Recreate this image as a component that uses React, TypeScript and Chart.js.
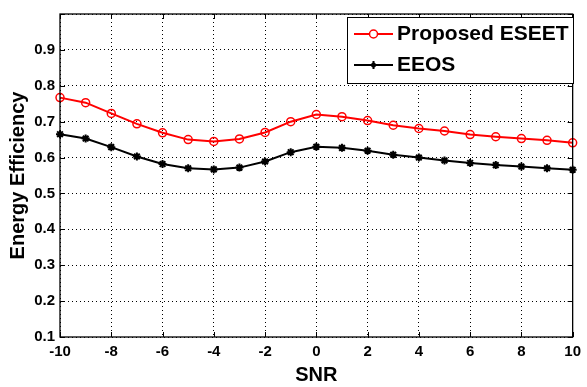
import React, { useEffect, useRef } from "react";
import { Chart, registerables } from "chart.js";

Chart.register(...registerables);

const snr = [-10, -9, -8, -7, -6, -5, -4, -3, -2, -1, 0, 1, 2, 3, 4, 5, 6, 7, 8, 9, 10];
const proposedEseet = [0.767, 0.753, 0.723, 0.694, 0.669, 0.65, 0.645, 0.652, 0.67, 0.7, 0.72, 0.714, 0.703, 0.69, 0.681, 0.674, 0.664, 0.658, 0.653, 0.648, 0.641];
const eeos = [0.665, 0.653, 0.629, 0.603, 0.582, 0.57, 0.567, 0.572, 0.589, 0.615, 0.63, 0.627, 0.619, 0.608, 0.6, 0.592, 0.585, 0.579, 0.575, 0.57, 0.566];
const seriesLabels = ["Proposed ESEET", "EEOS"];
const xTitle = "SNR";
const yTitle = "Energy Efficiency";

const FONT = "'Liberation Sans', Arial, sans-serif";

const boxLegendPlugin = {
  id: "boxLegend",
  afterDraw(chart: any) {
    const ctx = chart.ctx;
    const { left, top, right, bottom } = chart.chartArea;
    ctx.save();
    // axes box
    ctx.strokeStyle = "#000";
    ctx.lineWidth = 1.3;
    ctx.setLineDash([]);
    ctx.strokeRect(left, top, right - left, bottom - top);
    // inward tick marks (all four sides)
    ctx.lineWidth = 1;
    const xs = chart.scales.x;
    const ys = chart.scales.y;
    const tl = 5;
    xs.ticks.forEach((t: any) => {
      const px = Math.round(xs.getPixelForValue(t.value)) + 0.5;
      ctx.beginPath();
      ctx.moveTo(px, bottom);
      ctx.lineTo(px, bottom - tl);
      ctx.moveTo(px, top);
      ctx.lineTo(px, top + tl);
      ctx.stroke();
    });
    ys.ticks.forEach((t: any) => {
      const py = Math.round(ys.getPixelForValue(t.value)) + 0.5;
      ctx.beginPath();
      ctx.moveTo(left, py);
      ctx.lineTo(left + tl, py);
      ctx.moveTo(right, py);
      ctx.lineTo(right - tl, py);
      ctx.stroke();
    });
    // legend box
    const bx = 347, by = 17, bw = 226, bh = 66;
    ctx.fillStyle = "#fff";
    ctx.fillRect(bx, by, bw, bh);
    ctx.lineWidth = 1;
    ctx.strokeStyle = "#000";
    ctx.strokeRect(bx + 0.5, by + 0.5, bw, bh);
    const rows = [34, 65];
    chart.data.datasets.forEach((ds: any, i: number) => {
      const y = rows[i];
      ctx.strokeStyle = ds.borderColor;
      ctx.lineWidth = 2;
      ctx.beginPath();
      ctx.moveTo(354, y);
      ctx.lineTo(393, y);
      ctx.stroke();
      if (i === 0) {
        ctx.beginPath();
        ctx.arc(373.5, y, 4, 0, Math.PI * 2);
        ctx.fillStyle = "#fff";
        ctx.fill();
        ctx.lineWidth = 1.5;
        ctx.strokeStyle = ds.borderColor;
        ctx.stroke();
      } else {
        ctx.fillStyle = "#000";
        ctx.strokeStyle = "#000";
        ctx.lineWidth = 2;
        ctx.beginPath();
        ctx.moveTo(373.5, y - 4);
        ctx.lineTo(373.5, y + 4);
        ctx.moveTo(369.5, y);
        ctx.lineTo(377.5, y);
        ctx.stroke();
        ctx.beginPath();
        ctx.arc(373.5, y, 2.5, 0, Math.PI * 2);
        ctx.fill();
      }
      ctx.fillStyle = "#000";
      ctx.font = `bold 21px ${FONT}`;
      ctx.textBaseline = "middle";
      ctx.textAlign = "left";
      ctx.fillText(ds.label, 397, y);
    });
    ctx.restore();
  },
};

export default function App() {
  const ref = useRef<HTMLCanvasElement>(null);
  useEffect(() => {
    document.body.style.margin = "0";
    const chart = new Chart(ref.current!, {
      type: "line",
      data: {
        datasets: [
          {
            label: seriesLabels[0],
            data: snr.map((x, i) => ({ x, y: proposedEseet[i] })),
            borderColor: "#ff0000",
            backgroundColor: "#ffffff",
            borderWidth: 2,
            pointStyle: "circle",
            pointRadius: 4,
            pointBorderWidth: 1.5,
            pointBorderColor: "#ff0000",
            pointBackgroundColor: "rgba(255,255,255,0)",
            clip: false as any,
            tension: 0,
          },
          {
            label: seriesLabels[1],
            data: snr.map((x, i) => ({ x, y: eeos[i] })),
            borderColor: "#000000",
            backgroundColor: "#000000",
            borderWidth: 2,
            pointStyle: "star",
            pointRadius: 4,
            pointBorderWidth: 2,
            pointBorderColor: "#000000",
            pointBackgroundColor: "#000000",
            clip: false as any,
            tension: 0,
          },
        ],
      },
      options: {
        animation: false,
        responsive: false,
        maintainAspectRatio: false,
        layout: { padding: { top: 9, right: 8, left: 0, bottom: 0 } },
        plugins: {
          legend: { display: false },
          tooltip: { enabled: false },
        },
        scales: {
          x: {
            type: "linear",
            min: -10,
            max: 10,
            ticks: {
              stepSize: 2,
              color: "#000",
              font: { family: FONT, size: 15, weight: "bold" },
              padding: 6,
              maxRotation: 0,
            },
            grid: {
              color: "#000",
              lineWidth: 1,
              drawTicks: false,
            },
            border: { display: false, dash: [1, 3] },
            title: {
              display: true,
              text: xTitle,
              color: "#000",
              font: { family: FONT, size: 20, weight: "bold" },
              padding: { top: 0, bottom: 0 },
            },
            afterFit(scale: any) {
              scale.height = 50;
            },
          },
          y: {
            type: "linear",
            min: 0.1,
            max: 1.0,
            ticks: {
              stepSize: 0.1,
              color: "#000",
              font: { family: FONT, size: 15, weight: "bold" },
              padding: 5,
              callback: (v: any) => {
                const n = Math.round(Number(v) * 10) / 10;
                return n >= 1 ? "" : n.toFixed(1);
              },
            },
            grid: {
              color: "#000",
              lineWidth: 1,
              drawTicks: false,
            },
            border: { display: false, dash: [1, 3] },
            title: {
              display: true,
              text: yTitle,
              color: "#000",
              font: { family: FONT, size: 20, weight: "bold" },
              padding: { top: 6, bottom: 0 },
            },
            afterFit(scale: any) {
              scale.width = 60;
            },
          },
        },
      },
      plugins: [boxLegendPlugin],
    });
    return () => chart.destroy();
  }, []);
  return (
    <div style={{ position: "fixed", left: 0, top: 0, width: 587, height: 387, background: "#fff" }}>
      <canvas ref={ref} width={587} height={387} style={{ width: 587, height: 387 }} />
    </div>
  );
}
